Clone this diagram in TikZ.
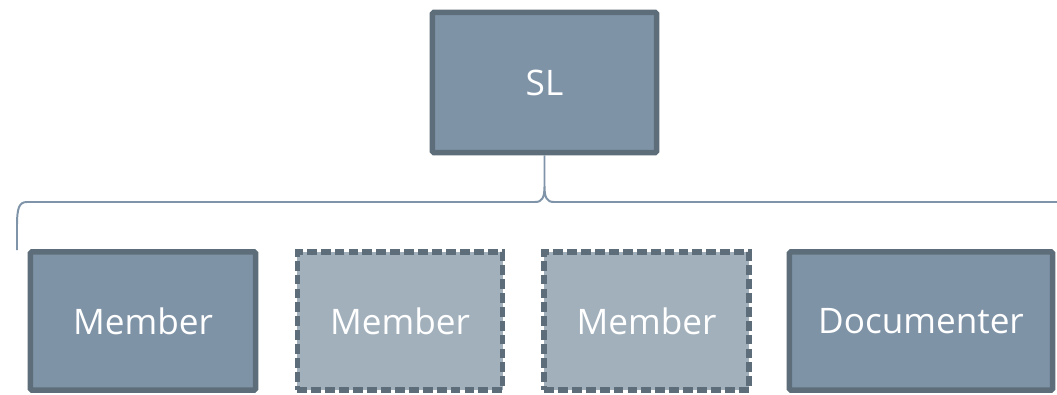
\documentclass[tikz,border=0pt]{standalone}
\usepackage{fontspec}
\setmainfont{Open Sans}
\usepackage{tikz}
\usetikzlibrary{calc}

\definecolor{slatefill}{HTML}{7F93A7}
\definecolor{slatepale}{HTML}{A2B0BC}
\definecolor{slateedge}{HTML}{5E6D7A}
\definecolor{braceline}{HTML}{7F94A8}

\tikzset{
  rolebox/.style={draw=slateedge, line width=3.9pt, fill=slatefill, rounded corners=1pt,
    inner sep=0pt, text=white, font=\fontsize{25}{30}\selectfont,
    minimum height=3.45cm},
  openbox/.style={rolebox, fill=slatepale, dash pattern=on 7pt off 2.9pt, rounded corners=0pt}
}

\begin{document}
\begin{tikzpicture}[x=0.025cm, y=-0.025cm]
  \useasboundingbox (0,0) rectangle (1057,394);
  % team lead
  \node[rolebox, minimum width=5.6cm, minimum height=3.5cm] (sl) at (544.5,82.5) {SL};
  % team members
  \node[rolebox, minimum width=5.625cm] (mem1) at (143,321) {Member};
  \node[openbox, minimum width=5.125cm] (mem2) at (400,321) {Member};
  \node[openbox, minimum width=5.125cm] (mem3) at (646.5,321) {Member};
  \node[rolebox, minimum width=6.575cm] (doc) at (921,321) {Documenter};
  % brace ends
  \coordinate (bl) at (17,250);
  \coordinate (br) at (1073,250);
  % brace
  \draw[braceline, line width=1.4pt]
    (bl) -- (17,226) .. controls (17,208) and (19,202) .. (27,202)
    -- (535,202) .. controls (542,202) and (544.5,198) .. (544.5,186) -- (sl.south)
    (sl.south) -- (544.5,186) .. controls (544.5,198) and (547,202) .. (554,202)
    -- (1062,202) .. controls (1070,202) and (1073,208) .. (1073,226) -- (br);
\end{tikzpicture}
\end{document}
